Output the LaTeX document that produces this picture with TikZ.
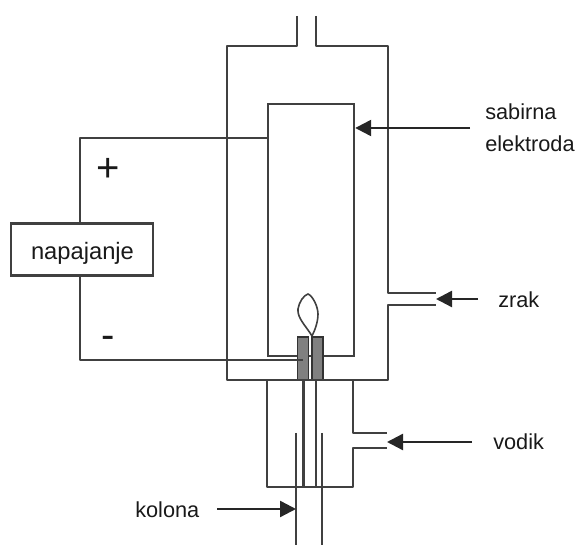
\documentclass[tikz,border=0pt]{standalone}
\usepackage{fontspec}
\setmainfont{Liberation Sans}
\usetikzlibrary{arrows.meta,calc,positioning}

\begin{document}
\begin{tikzpicture}[
	x=0.75pt, y=-0.75pt,
	font=\fontsize{16.3}{20}\selectfont
	]
\tikzset{
	wire/.style = { draw=black!75, line width=1.8pt, line join=round },
	thinwire/.style = { draw=black!75, line width=1.2pt },
	arrow/.style = { draw=black!85, line width=1.8pt, -{Triangle[length=12pt,width=12pt]} },
	label/.style = { inner sep=0pt, anchor=base west, text=black!90 },
	sign/.style = { inner sep=0pt, font=\fontsize{30}{34}\selectfont, text=black!90 },
	coord/.style = { coordinate },
	supply/.style = { rectangle, draw=black!75, line width=1.6pt, minimum width=106.5pt, minimum height=39pt, inner sep=0pt },
	burner/.style = { rectangle, draw=black!80, line width=1.2pt, fill=black!50, minimum width=8pt, minimum height=32pt, inner sep=0pt }
}
	\useasboundingbox (0,0) rectangle (576,545);

	% outer chamber
	\node (chimneyL) [coord] at (297,16) {};
	\node (chimneyR) [coord] at (316,16) {};
	\node (outerTL) [coord] at (227,46) {};
	\node (outerTR) [coord] at (388,46) {};
	\node (outerBL) [coord] at (227,380) {};
	\node (outerBR) [coord] at (388,380) {};
	\node (airTop) [coord] at (388,293) {};
	\node (airBot) [coord] at (388,305) {};
	\node (airTopEnd) [coord] at (436,293) {};
	\node (airBotEnd) [coord] at (436,305) {};

	% collector electrode
	\node (electrode) [rectangle, draw=black!75, line width=1.8pt, minimum width=64.5pt, minimum height=189pt, inner sep=0pt] at (311,230) {};

	% lower part
	\node (lowerTL) [coord] at (267,380) {};
	\node (lowerTR) [coord] at (353,380) {};
	\node (lowerBL) [coord] at (267,487) {};
	\node (lowerBR) [coord] at (353,487) {};
	\node (gasTop) [coord] at (353,433) {};
	\node (gasBot) [coord] at (353,448) {};
	\node (gasTopEnd) [coord] at (387,433) {};
	\node (gasBotEnd) [coord] at (387,448) {};

	% burner
	\node (burnerL) [burner] at (303,358.5) {};
	\node (burnerR) [burner] at (317.5,358.5) {};
	\node (tubeL) [coord] at (303.5,487) {};
	\node (tubeR) [coord] at (316,487) {};
	\node (columnL) [coord] at (296,433) {};
	\node (columnR) [coord] at (322,433) {};
	\node (columnLEnd) [coord] at (296,545) {};
	\node (columnREnd) [coord] at (322,545) {};
	\node (flameBase) [coord] at (312,336) {};
	\node (flameTop) [coord] at (308,294) {};

	% power supply
	\node (supply) [supply] at (82,249.5) {};
	\node (supplyText) [inner sep=0pt, anchor=base, font=\fontsize{17.8}{21}\selectfont, text=black!90] at (82.5,260) {napajanje};
	\node (plus) [sign] at (108,170) {+};
	\node (minus) [sign] at (108,342) {-};
	\node (wireTop) [coord] at (80,138) {};
	\node (wireBot) [coord] at (80,360) {};

	% labels
	\node (sabirna) [label] at (485,120) {sabirna};
	\node (elektroda) [label] at (485,152) {elektroda};
	\node (zrak) [label] at (498,308) {zrak};
	\node (vodik) [label] at (493,450) {vodik};
	\node (kolona) [label] at (135,518) {kolona};

	\node (arrowElectrode) [coord] at (470,128) {};
	\node (arrowAir) [coord] at (478,299) {};
	\node (arrowGas) [coord] at (472,442) {};
	\node (arrowColumn) [coord] at (217,509) {};

	% paths
	\draw [wire] (chimneyL) -- (chimneyL |- outerTL) -- (outerTL) -- (outerBL) -- (outerBR) -- (airBot) -- (airBotEnd);
	\draw [wire] (chimneyR) -- (chimneyR |- outerTR) -- (outerTR) -- (airTop) -- (airTopEnd);

	\draw [wire] (lowerTL) -- (lowerBL) -- (lowerBR) -- (gasBot) -- (gasBotEnd);
	\draw [wire] (lowerTR) -- (gasTop) -- (gasTopEnd);

	\draw [wire] (tubeL) -- (tubeL |- outerBL);
	\draw [wire] (tubeR) -- (tubeR |- outerBL);
	\draw [wire] (columnL) -- (columnLEnd);
	\draw [wire] (columnR) -- (columnREnd);

	\draw [thinwire] (flameBase) .. controls (306,326) and (297,318) .. (298,309) .. controls (299,302) and (304,295) .. (flameTop) .. controls (313,296) and (318,307) .. (318,314) .. controls (318,322) and (315,330) .. (flameBase);

	\draw [wire] (supply.north -| wireTop) -- (wireTop) -- (wireTop -| electrode.west);
	\draw [wire] (supply.south -| wireBot) -- (wireBot) -- (burnerL.center |- wireBot);

	\draw [arrow] (arrowElectrode) -- (arrowElectrode -| electrode.east);
	\draw [arrow] (arrowAir) -- (airTopEnd |- arrowAir);
	\draw [arrow] (arrowGas) -- (arrowGas -| gasTopEnd);
	\draw [arrow] (arrowColumn) -- (arrowColumn -| columnL);

\end{tikzpicture}
\end{document}
